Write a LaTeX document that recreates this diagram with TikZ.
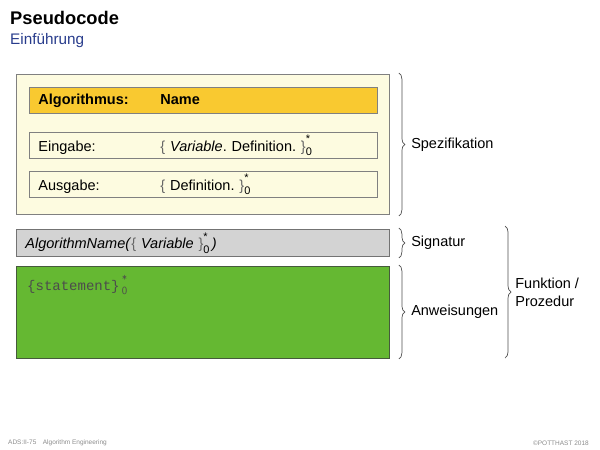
\documentclass[tikz,border=0pt]{standalone}
\usepackage{fontspec}
\setmainfont{Liberation Sans}
\setmonofont{Liberation Mono}
\usetikzlibrary{decorations.pathreplacing}
\definecolor{specfill}{RGB}{253,251,224}
\definecolor{boxline}{RGB}{128,128,128}
\definecolor{algfill}{RGB}{249,201,48}
\definecolor{sigfill}{RGB}{211,211,211}
\definecolor{codefill}{RGB}{101,184,50}
\definecolor{codeline}{RGB}{70,90,60}
\definecolor{titleblue}{RGB}{40,60,140}
\definecolor{bracecol}{RGB}{80,80,80}
\newcommand{\sz}{\rlap{\raisebox{1.1ex}{\fontsize{11}{11}\selectfont *}}\raisebox{-0.6ex}{\fontsize{11}{11}\selectfont 0}}
\newcommand{\lb}{{\color{black!60}\{}}
\newcommand{\rb}{{\color{black!60}\}}}
\frenchspacing
\begin{document}
\begin{tikzpicture}[x=1pt,y=-1pt,
  every node/.style={font=\fontsize{14.5}{16}\selectfont},
  frame/.style={draw=boxline,line width=0.9pt,anchor=north west,inner sep=0pt},
  rowbox/.style={frame,minimum width=348pt,minimum height=26pt,align=left,text width=330pt,inner xsep=9pt},
  brace/.style={decorate,decoration={brace,amplitude=6pt},draw=bracecol,line width=0.7pt},
  blabel/.style={anchor=west,inner sep=3pt}
]
\useasboundingbox (0,0) rectangle (600,450);
\node[anchor=west,inner sep=0pt,font=\fontsize{18.3}{20}\selectfont\bfseries] (title) at (10,18) {Pseudocode};
\node[anchor=west,inner sep=0pt,font=\fontsize{15.3}{17}\selectfont,text=titleblue] (sub) at (10,41) {Einführung};

\node[frame,fill=specfill,minimum width=373pt,minimum height=140pt] (spec) at (16,74) {};
\node[rowbox,fill=algfill,font=\fontsize{14.5}{16}\selectfont\bfseries] (alg) at (29,87) {\makebox[122pt][l]{Algorithmus:}Name};
\node[rowbox,fill=specfill] (ein) at (29,132) {\makebox[122pt][l]{Eingabe:}\lb\ \textit{Variable}.\ Definition.\ \rb\sz};
\node[rowbox,fill=specfill] (aus) at (29,171) {\makebox[122pt][l]{Ausgabe:}\lb\ Definition.\ \rb\sz};

\node[frame,fill=sigfill,minimum width=373pt,minimum height=27pt,align=left,text width=355pt,inner xsep=9pt,draw=black!55] (sig) at (16,229) {\textit{AlgorithmName(}\lb\ \textit{Variable}\ \rb\sz\,\textit{)}};

\node[frame,fill=codefill,draw=codeline,minimum width=373pt,minimum height=92pt] (code) at (16,266) {};
\node[anchor=north west,inner sep=0pt,font=\fontsize{14}{15}\ttfamily,text=black!70] (stmt) at (27,275) {\{statement\}\,{\sffamily\sz}};

\draw[brace] ([xshift=9pt,yshift=1pt]spec.north east) -- ([xshift=9pt,yshift=-1pt]spec.south east) node[midway,blabel,xshift=9pt] (l1) {Spezifikation};
\draw[brace] ([xshift=9pt,yshift=1pt]sig.north east) -- ([xshift=9pt,yshift=-1pt]sig.south east) node[midway,blabel,xshift=9pt] (l2) {Signatur};
\draw[brace] ([xshift=9pt,yshift=1pt]code.north east) -- ([xshift=9pt]code.south east) node[midway,blabel,xshift=9pt] (l3) {Anweisungen};
\coordinate (ft) at (505,226);
\coordinate (fb) at (505,358);
\draw[brace] (ft) -- (fb) node[midway,blabel,xshift=7pt,align=left,font=\fontsize{14.5}{18}\selectfont] (l4) {Funktion /\\Prozedur};

\node[anchor=west,inner sep=0pt,font=\fontsize{6.5}{7}\selectfont,text=black!45] (f1) at (8,443) {ADS:II-75\quad Algorithm Engineering};
\node[anchor=east,inner sep=0pt,font=\fontsize{6.5}{7}\selectfont,text=black!45] (f2) at (589,443) {©POTTHAST 2018};
\end{tikzpicture}
\end{document}
